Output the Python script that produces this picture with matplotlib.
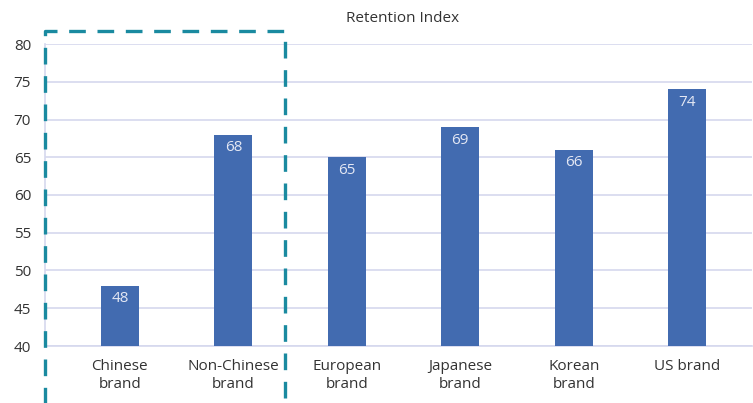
import matplotlib
matplotlib.use("Agg")
import matplotlib.pyplot as plt
from matplotlib.lines import Line2D

categories = ["Chinese\nbrand", "Non-Chinese\nbrand", "European\nbrand", "Japanese\nbrand", "Korean\nbrand", "US brand"]
values = [48, 68, 65, 69, 66, 74]
yticks = [40, 45, 50, 55, 60, 65, 70, 75, 80]
title = "Retention Index"

W, H = 753, 403
plt.rcParams['font.family'] = ['Open Sans', 'DejaVu Sans']
fig = plt.figure(figsize=(W/100, H/100), dpi=100)
ax = fig.add_axes([45/W, 1-346/H, (752-45)/W, (346-44)/H])

x = list(range(len(categories)))
bar_color = "#426bb0"
ax.bar(x, values, width=0.335, color=bar_color, zorder=3)
for xi, v in zip(x, values):
    ax.text(xi, v - 0.75, f"{v}", ha="center", va="top", color="#e4e8f4", fontsize=11, zorder=4)

ax.set_ylim(40, 80)
ax.set_yticks(yticks)
ax.set_xlim(-0.66, 5.57)
ax.set_xticks(x)
ax.set_xticklabels(categories, fontsize=11, color="#333333", linespacing=1.35)
ax.tick_params(axis='y', labelsize=11, labelcolor="#333333", length=0, pad=10)
ax.tick_params(axis='x', length=0, pad=9)
ax.grid(axis='y', color="#d5d8ee", linewidth=1.2, zorder=0)
for s in ["top", "right"]:
    ax.spines[s].set_visible(False)
for s in ["left", "bottom"]:
    ax.spines[s].set_color("#d5d8ee")
    ax.spines[s].set_linewidth(1.2)

fig.text(403/W, 1-19/H, title, ha="center", va="center", fontsize=11, color="#333333")

# dashed highlight box
dash_color = "#1a8aa0"
l, r, t, b = 45/W, 285/W, 1-31/H, -0.05
box = Line2D([l, l, r, r], [b, t, t, b], transform=fig.transFigure, color=dash_color,
             linewidth=2.4, linestyle=(0, (5, 3.5)), clip_on=False, zorder=10)
fig.add_artist(box)

fig.savefig("out.png", dpi=100)
